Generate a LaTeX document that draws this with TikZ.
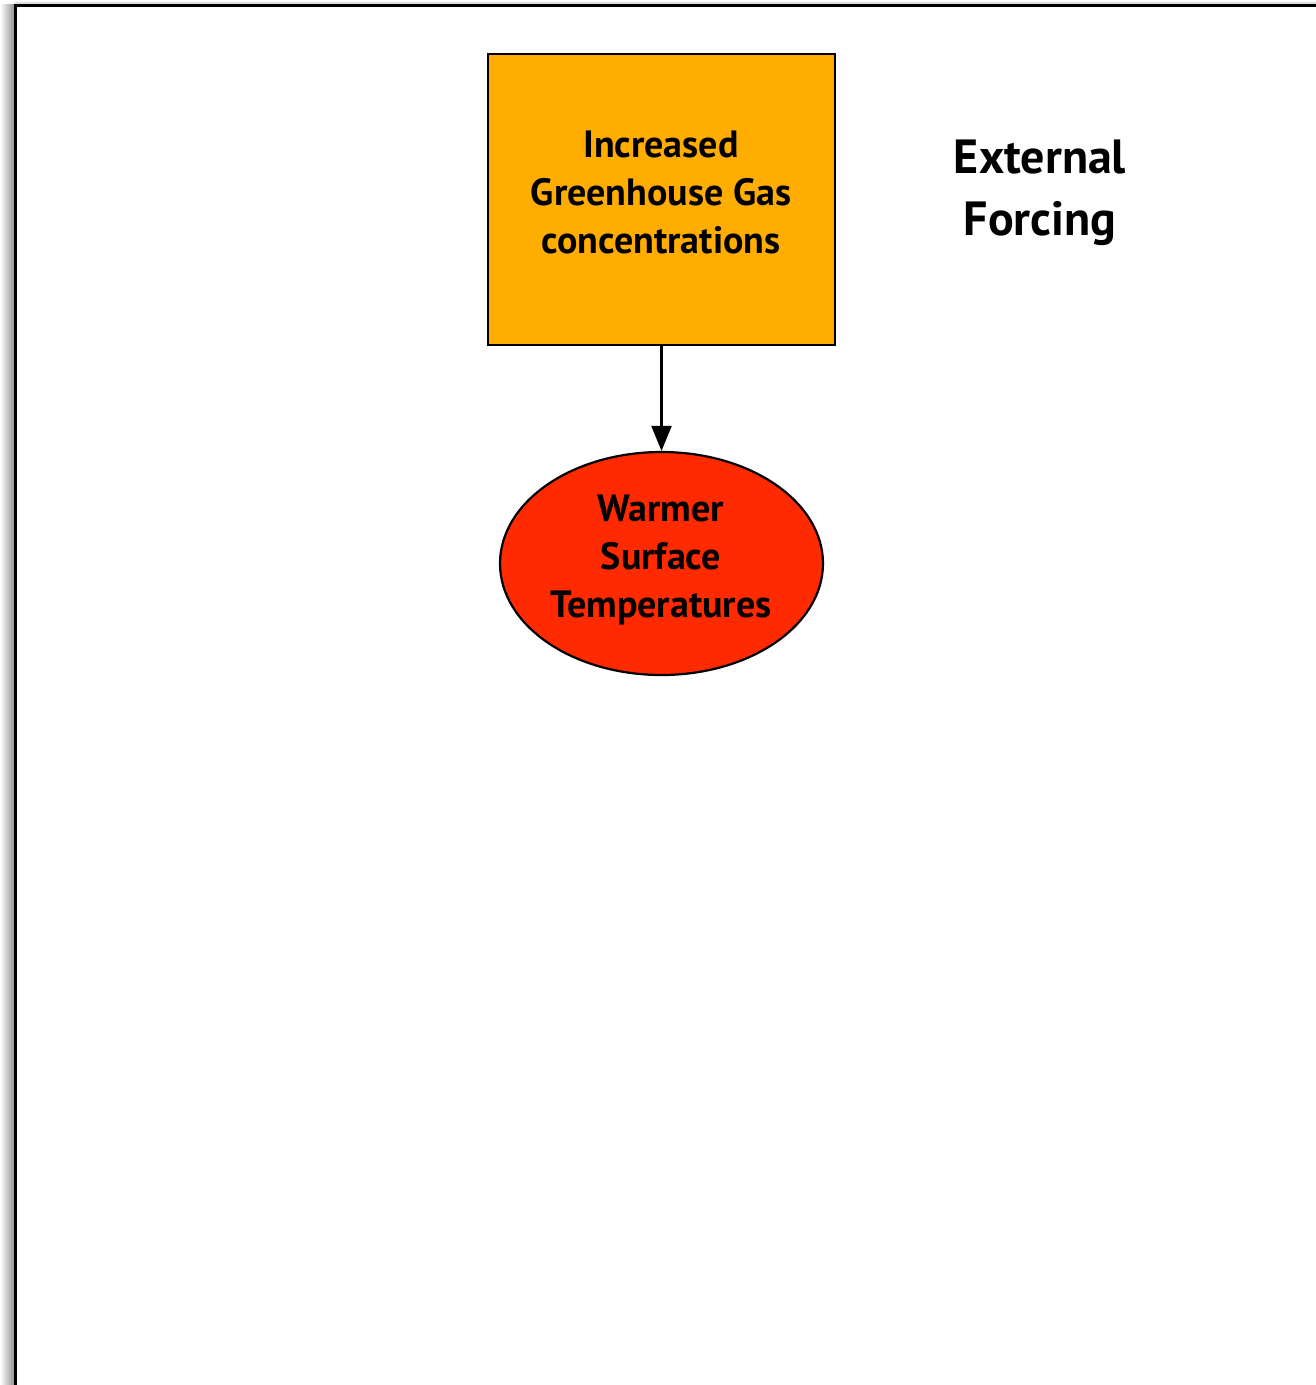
\documentclass[tikz,border=0pt]{standalone}
\usepackage{fontspec}
\setmainfont{PT Sans}
\usetikzlibrary{arrows.meta,shapes.geometric}
\definecolor{boxorange}{HTML}{FFAD00}
\definecolor{ellred}{HTML}{FF2A00}
\tikzset{
  px/.style={x=1pt,y=-1pt},
  lbl/.style={font=\bfseries\fontsize{38}{48}\selectfont,align=center,text=black},
  forcebox/.style={draw=black,line width=2.2pt,fill=boxorange,minimum width=347pt,minimum height=291pt,inner sep=0pt},
  forceell/.style={ellipse,draw=black,line width=2.2pt,fill=ellred,minimum width=323pt,minimum height=223pt,inner sep=0pt},
  conn/.style={line width=2.4pt,-{Triangle[length=25pt,width=20pt]}}
}
\begin{document}
\begin{tikzpicture}[px]
\useasboundingbox (0,0) rectangle (1316,1385);
\fill[white] (0,0) rectangle (1316,1385);
% shadow
\shade[left color=white,right color=black!45] (0,4) rectangle (15,1385);
\shade[top color=white,bottom color=black!25] (15,0) rectangle (1316,5);
% frame
\draw[line width=3pt,black] (15,1390) -- (15,5.5) -- (1320,5.5);
\node[forcebox] (ghg) at (661.5,199.5) {};
\node[lbl] (ghgt) at (661,192) {Increased\\Greenhouse Gas\\concentrations};
\node[forceell] (warm) at (661.5,563.5) {};
\node[lbl] (warmt) at (661,560) {Warmer\\Surface\\Temperatures};
\node[font=\bfseries\fontsize{48}{62}\selectfont,align=center] (ext) at (1040,193) {External\\Forcing};
\draw[conn] (ghg.south) -- (warm.north);
\end{tikzpicture}
\end{document}
